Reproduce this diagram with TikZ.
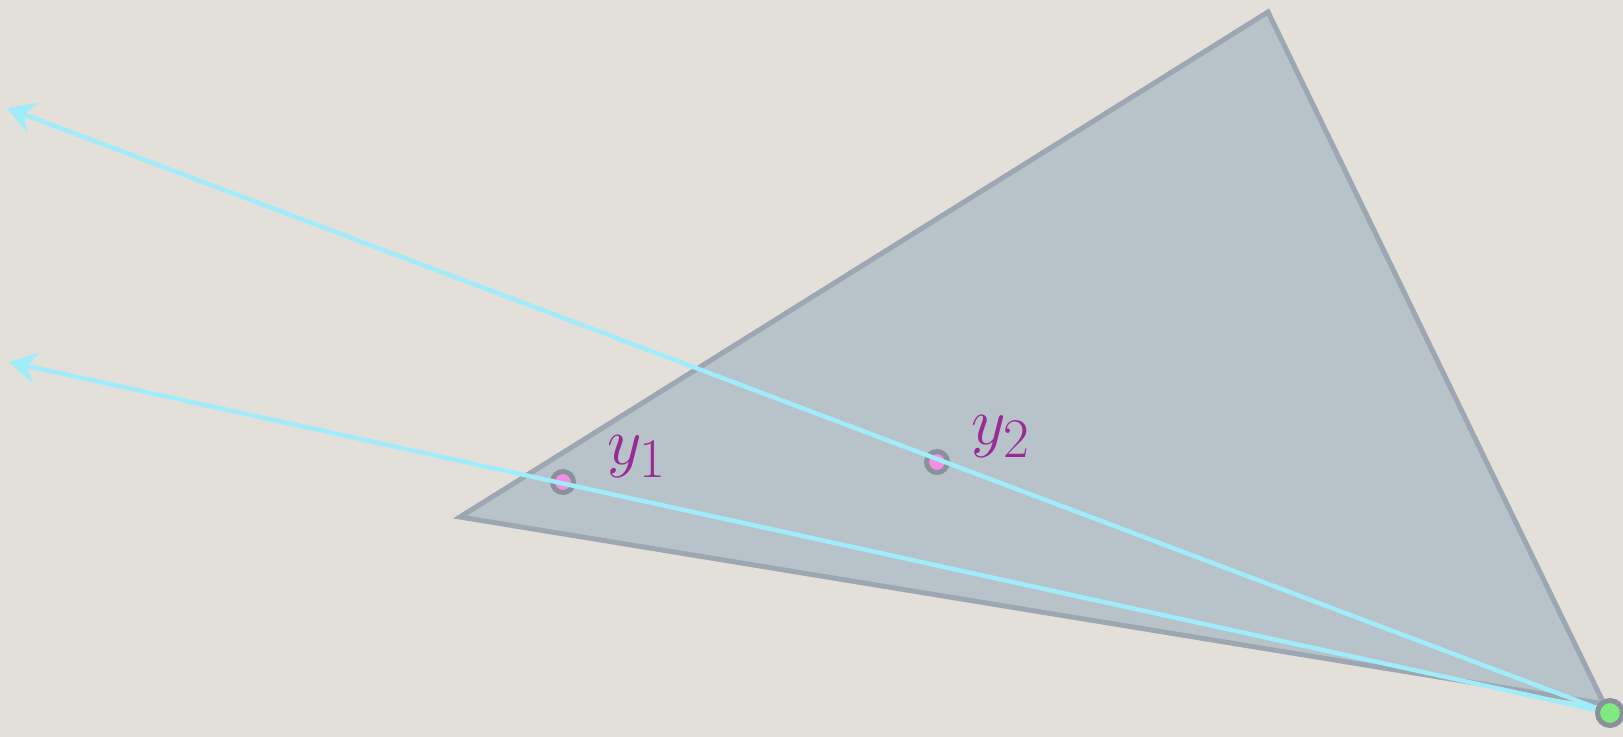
\documentclass[tikz,border=0pt]{standalone}
\usetikzlibrary{arrows.meta}
\definecolor{carta}{HTML}{E3E0DA}
\definecolor{triangolo}{HTML}{B8C3C9}
\definecolor{bordo}{HTML}{9CA7B1}
\definecolor{raggio}{HTML}{A0ECFA}
\definecolor{viola}{HTML}{992A96}
\definecolor{rosa}{HTML}{F490E4}
\definecolor{verde}{HTML}{80EA80}
\definecolor{anello}{HTML}{89929B}
\begin{document}
\begin{tikzpicture}[x=0.5pt,y=-0.5pt,
    punto/.style={circle, draw=anello, fill=rosa, line width=2.5pt, inner sep=0pt, minimum size=10.5pt},
    sorgente/.style={circle, draw=anello, fill=verde, line width=2.5pt, inner sep=0pt, minimum size=12.5pt},
    raggio/.style={draw=raggio, line width=2.2pt, -{Stealth[length=14pt,width=16pt,inset=5pt]}},
    etichetta/.style={text=viola, font=\Huge, scale=1.35, transform shape}]
    % Sfondo
    \fill[carta] (0,0) rectangle (1623,737);
    \useasboundingbox (0,0) rectangle (1623,737);

    % Triangolo
    \draw[fill=triangolo, draw=bordo, line width=2.5pt] (460,517) -- (1268,12) -- (1604,704) -- cycle;

    % Punti y1, y2
    \node[punto] (y1) at (563,482) {};
    \node[punto] (y2) at (937,462) {};
    \node[etichetta] (l1) at (637,457) {$y_1$};
    \node[etichetta] (l2) at (1001,437) {$y_2$};

    % Raggi
    \coordinate (s0) at (1610,713);
    \coordinate (f1) at (9,362);
    \coordinate (f2) at (7,108);
    \draw[raggio] (s0) -- (f1);
    \draw[raggio] (s0) -- (f2);

    % Sorgente
    \node[sorgente] (s) at (s0) {};
\end{tikzpicture}
\end{document}
